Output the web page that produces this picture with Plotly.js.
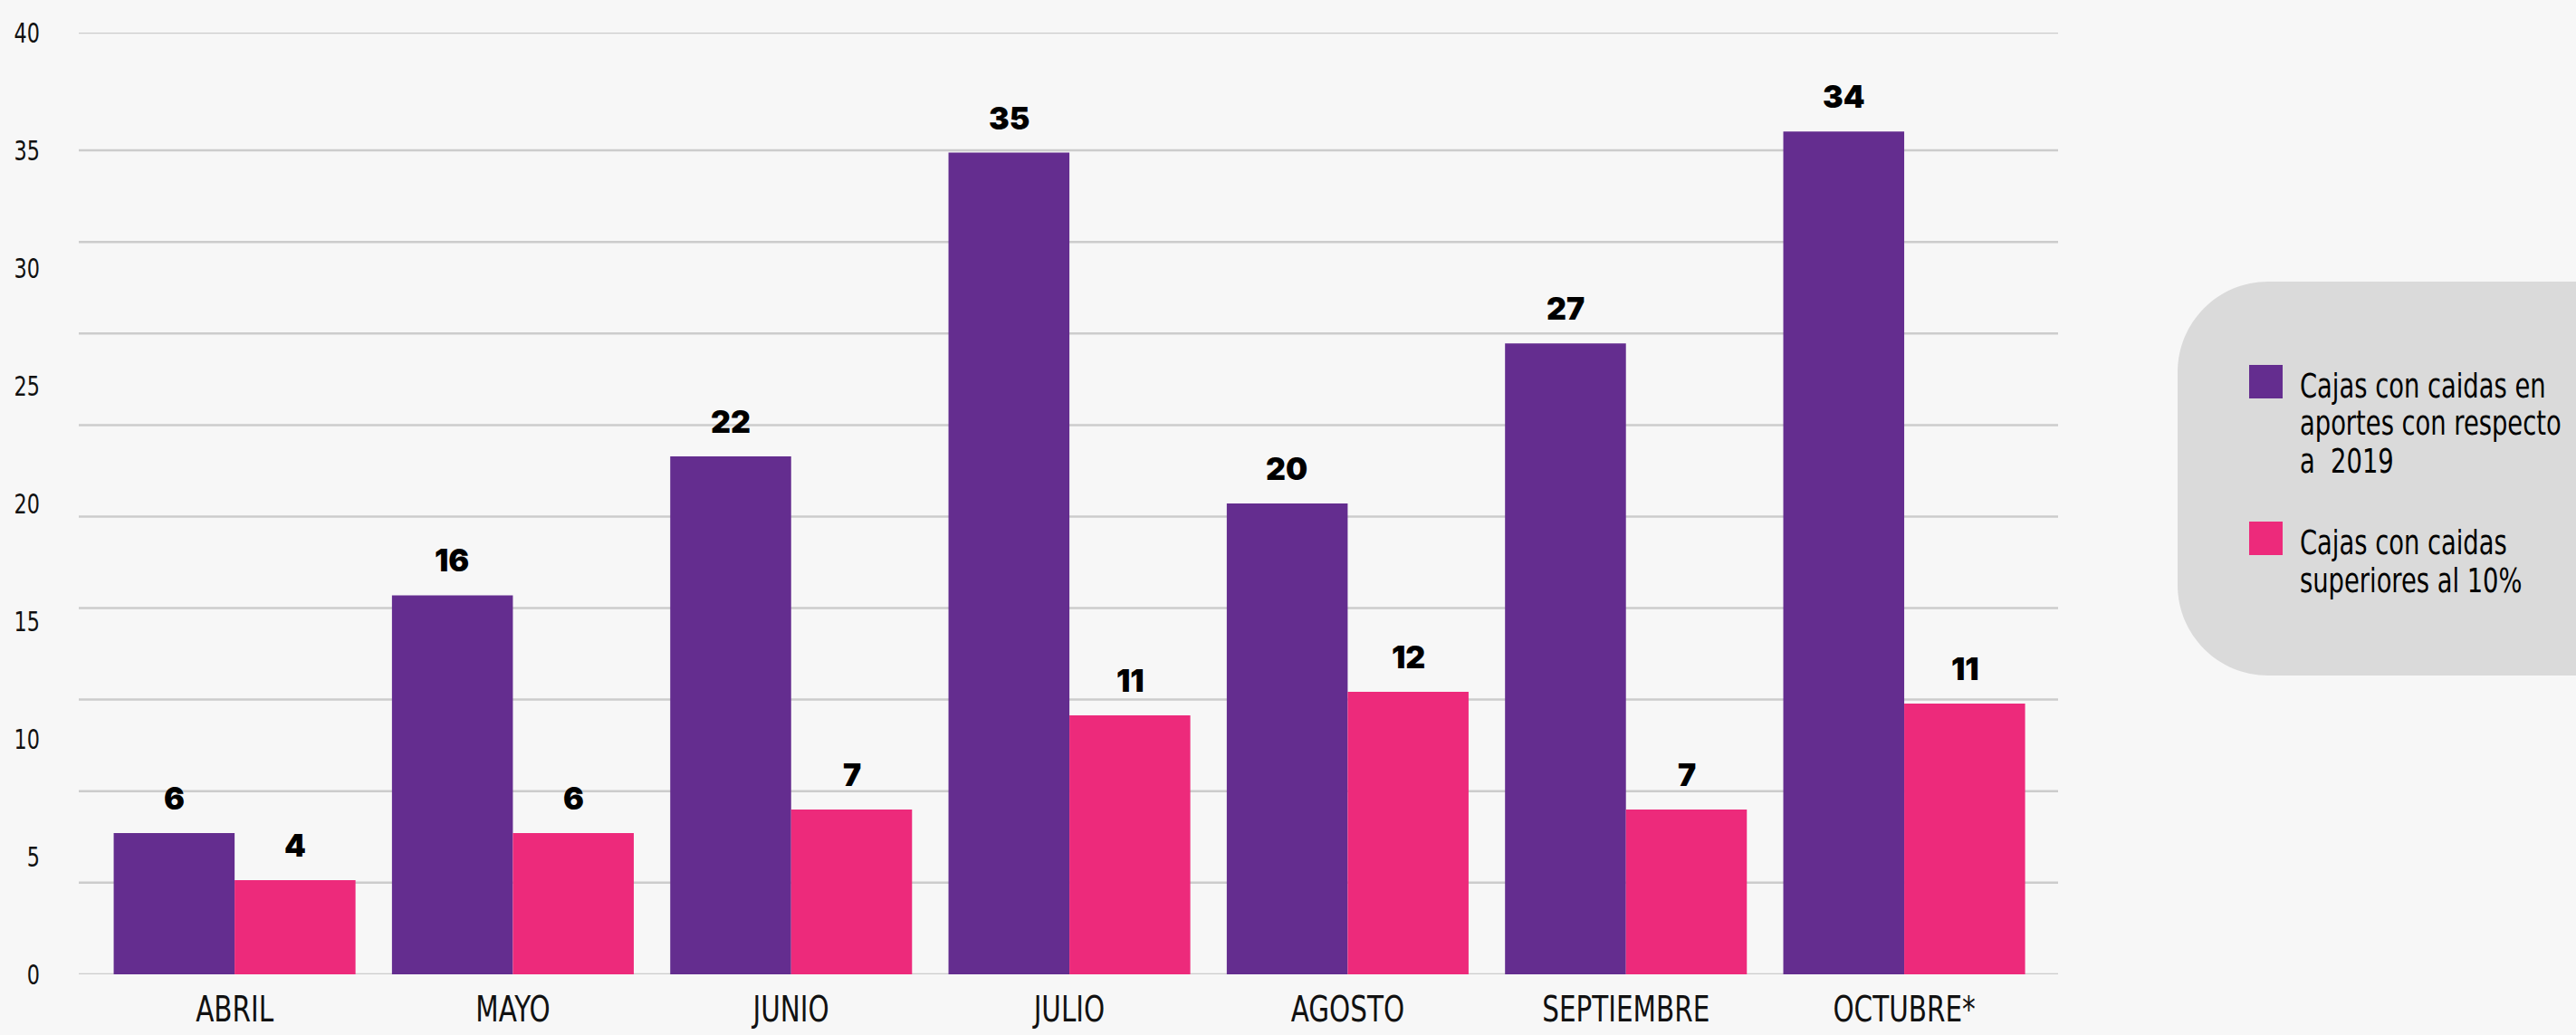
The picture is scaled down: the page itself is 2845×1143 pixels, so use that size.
<!DOCTYPE html>
<html>
<head>
<meta charset="utf-8">
<script src="https://cdn.plot.ly/plotly-3.0.1.min.js"></script>
<style>
  html, body { margin: 0; padding: 0; background: #f7f7f7; }
  #chart { width: 2845px; height: 1143px; }
  .main-svg text { font-stretch: condensed; }
</style>
</head>
<body>
<div id="chart"></div>
<script>
// ---- DATA ----
const categories = ['ABRIL', 'MAYO', 'JUNIO', 'JULIO', 'AGOSTO', 'SEPTIEMBRE', 'OCTUBRE*'];
const caidasRespecto2019 = [6.0, 16.1, 22.0, 34.9, 20.0, 26.8, 35.8];
const caidasSuperiores10 = [4.0, 6.0, 7.0, 11.0, 12.0, 7.0, 11.5];
const labelsRespecto2019 = ['6', '16', '22', '35', '20', '27', '34'];
const labelsSuperiores10 = ['4', '6', '7', '11', '12', '7', '11'];
const seriesNames = [
  ['Cajas con caidas en', 'aportes con respecto', 'a\u00a0 2019'],
  ['Cajas con caidas', 'superiores al 10%']
];
const yTickVals = [0, 5, 10, 15, 20, 25, 30, 35, 40];
const yTickText = ['0', '5', '10', '15', '20', '25', '30', '35', '40'];
const gridVals = [0, 3.89, 7.78, 11.67, 15.56, 19.44, 23.33, 27.22, 31.11, 35, 40];

// ---- STYLE ----
const colors = ['#642d8f', '#ed2a7b'];
const W = 2845, H = 1143;
const M = { l: 87, r: 572, t: 36, b: 67 };
const plotW = W - M.l - M.r, plotH = H - M.t - M.b;
const condensed = "'Liberation Sans Narrow', 'DejaVu Sans Condensed', 'DejaVu Sans', sans-serif";
const boldFont = "Inter, 'DejaVu Sans', sans-serif";
const px2x = p => (p - M.l) / plotW;
const px2y = p => (H - M.b - p) / plotH;

const traces = [
  { type: 'bar', x: categories, y: caidasRespecto2019, marker: { color: colors[0] },
    name: seriesNames[0].join(' '), showlegend: false, hoverinfo: 'x+y' },
  { type: 'bar', x: categories, y: caidasSuperiores10, marker: { color: colors[1] },
    name: seriesNames[1].join(' '), showlegend: false, hoverinfo: 'x+y' }
];

const shapes = [];
gridVals.forEach(v => shapes.push({
  type: 'line', xref: 'paper', yref: 'y', x0: 0, x1: 1, y0: v, y1: v,
  line: { color: '#cccccc', width: 2.5 }, layer: 'below'
}));

// legend rounded box
(function () {
  const L = 2405, R = 2900, T = 311, B = 746, r = 100;
  const k = 0.4477;
  const P = (x, y) => px2x(x).toFixed(5) + ',' + px2y(y).toFixed(5);
  const path = 'M' + P(L + r, T) + ' L' + P(R, T) + ' L' + P(R, B) + ' L' + P(L + r, B) +
    ' C' + P(L + r * k, B) + ' ' + P(L, B - r * k) + ' ' + P(L, B - r) +
    ' L' + P(L, T + r) +
    ' C' + P(L, T + r * k) + ' ' + P(L + r * k, T) + ' ' + P(L + r, T) + ' Z';
  shapes.push({ type: 'path', xref: 'paper', yref: 'paper', path: path,
    fillcolor: '#dadada', line: { width: 0 }, layer: 'below' });
})();

const annotations = [];
const legendAnnIdx = [];
// legend items
const legendSquareTop = [403, 576];
const sq = 37, textX = 2538, lineGap = 41.5;
seriesNames.forEach((lines, i) => {
  const top = legendSquareTop[i];
  shapes.push({ type: 'rect', xref: 'paper', yref: 'paper',
    x0: px2x(2484), x1: px2x(2484 + sq), y0: px2y(top), y1: px2y(top + sq),
    fillcolor: colors[i], line: { width: 0 } });
  lines.forEach((ln, j) => {
    legendAnnIdx.push(annotations.length);
    annotations.push({
      xref: 'paper', yref: 'paper', x: px2x(textX), y: px2y(top + 23 + j * lineGap),
      xanchor: 'left', yanchor: 'middle', text: ln, showarrow: false,
      font: { family: condensed, size: 38, color: '#000' }
    });
  });
});

// data labels
const barHalf = 67;
[[caidasRespecto2019, labelsRespecto2019, -barHalf], [caidasSuperiores10, labelsSuperiores10, barHalf]]
  .forEach(([vals, labs, dx]) => {
    vals.forEach((v, i) => annotations.push({
      x: categories[i], y: v, xref: 'x', yref: 'y', text: labs[i], showarrow: false,
      xanchor: 'center', yanchor: 'bottom', xshift: dx, yshift: 16,
      font: { family: boldFont, size: 34, color: '#000', weight: 900 }
    }));
  });

const layout = {
  width: W, height: H,
  margin: M,
  paper_bgcolor: '#f7f7f7', plot_bgcolor: '#f7f7f7',
  barmode: 'group', bargap: 0.131, bargroupgap: 0,
  showlegend: false,
  xaxis: {
    type: 'category', range: [-0.56, 6.553], showgrid: false, zeroline: false, showline: false,
    ticks: '', ticklabelstandoff: 12,
    tickfont: { family: condensed, size: 39, color: '#111' }
  },
  yaxis: {
    range: [0, 40], tickmode: 'array', tickvals: yTickVals, ticktext: yTickText,
    showgrid: false, zeroline: false, showline: false, ticks: '', ticklabelstandoff: 42,
    tickfont: { family: condensed, size: 31, color: '#111' }
  },
  shapes: shapes,
  annotations: annotations
};

// narrow the condensed text horizontally to mimic the original condensed face
function squeeze(el, factor, anchor) {
  const bb = el.getBBox();
  const cx = anchor === 'left' ? bb.x : anchor === 'right' ? bb.x + bb.width : bb.x + bb.width / 2;
  const prev = el.getAttribute('transform') || '';
  el.setAttribute('transform', (prev + ' translate(' + cx + ',0) scale(' + factor + ',1) translate(' + (-cx) + ',0)').trim());
}

Plotly.newPlot('chart', traces, layout, { displayModeBar: false, staticPlot: true }).then(gd => {
  gd.querySelectorAll('.xtick text').forEach(t => squeeze(t, 0.84, 'center'));
  gd.querySelectorAll('.ytick text').forEach(t => squeeze(t, 0.8, 'right'));
  legendAnnIdx.forEach(i => {
    const t = gd.querySelector('.annotation[data-index="' + i + '"] text');
    if (t) squeeze(t, 0.8, 'left');
  });
});
</script>
</body>
</html>
